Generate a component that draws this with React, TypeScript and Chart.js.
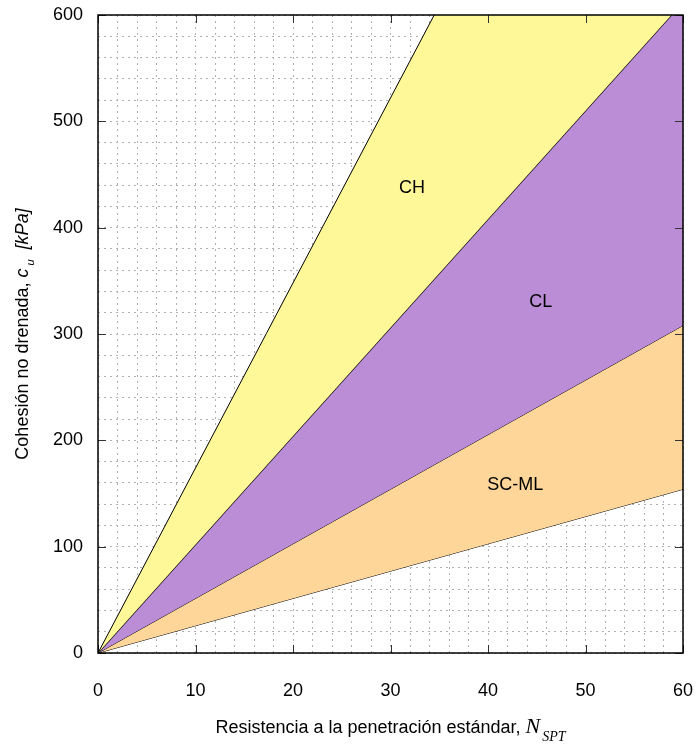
import React, { useEffect, useRef } from "react";
import { Chart, registerables } from "chart.js";

Chart.register(...registerables);

// Data
const nSpt = [0, 60];
const chUpper = [0, 1044]; // slope ~17.4 kPa per blow
const chClBoundary = [0, 612]; // slope ~10.2
const clScBoundary = [0, 308]; // slope ~5.13
const scLower = [0, 154]; // slope ~2.57

const zoneLabels = ["CH", "CL", "SC-ML"];
const zoneLabelN = [32.2, 45.4, 42.8];
const zoneLabelCu = [437, 330, 158];

const xTickValues = [0, 10, 20, 30, 40, 50, 60];
const yTickValues = [0, 100, 200, 300, 400, 500, 600];

const YELLOW = "rgb(255,248,153)";
const PURPLE = "rgb(187,141,215)";
const ORANGE = "rgb(255,214,153)";

const SANS = "Arial, 'Liberation Sans', Helvetica, sans-serif";
const SERIF = "'Times New Roman', 'Liberation Serif', serif";

const overlay = {
  id: "overlay",
  afterDatasetsDraw(chart: any) {
    const { ctx, chartArea: a, scales } = chart;
    const xs = scales.x;
    const ys = scales.y;
    ctx.save();
    // zone labels
    ctx.fillStyle = "#000";
    ctx.font = `18px ${SANS}`;
    ctx.textAlign = "center";
    ctx.textBaseline = "middle";
    zoneLabels.forEach((t, i) => {
      ctx.fillText(t, xs.getPixelForValue(zoneLabelN[i]), ys.getPixelForValue(zoneLabelCu[i]));
    });
    // inward tick marks
    ctx.strokeStyle = "#333";
    ctx.lineWidth = 1;
    const tl = 8;
    ctx.beginPath();
    xTickValues.forEach((v) => {
      const px = Math.round(xs.getPixelForValue(v)) + 0.5;
      ctx.moveTo(px, a.bottom);
      ctx.lineTo(px, a.bottom - tl);
      ctx.moveTo(px, a.top);
      ctx.lineTo(px, a.top + tl);
    });
    yTickValues.forEach((v) => {
      const py = Math.round(ys.getPixelForValue(v)) + 0.5;
      ctx.moveTo(a.left, py);
      ctx.lineTo(a.left + tl, py);
      ctx.moveTo(a.right, py);
      ctx.lineTo(a.right - tl, py);
    });
    ctx.stroke();
    // frame
    ctx.strokeStyle = "#000";
    ctx.lineWidth = 1.5;
    ctx.strokeRect(a.left, a.top, a.right - a.left, a.bottom - a.top);

    // x title
    ctx.textAlign = "left";
    ctx.textBaseline = "alphabetic";
    const p1 = "Resistencia a la penetración estándar, ";
    const f1 = `18px ${SANS}`;
    const f2 = `italic 22px ${SERIF}`;
    const f3 = `italic 14px ${SERIF}`;
    ctx.font = f1;
    const w1 = ctx.measureText(p1).width;
    ctx.font = f2;
    const w2 = ctx.measureText("N").width;
    ctx.font = f3;
    const w3 = ctx.measureText("SPT").width;
    const cx = (a.left + a.right) / 2;
    let x0 = cx - (w1 + w2 + w3 + 2) / 2;
    const by = 733;
    ctx.font = f1;
    ctx.fillText(p1, x0, by);
    x0 += w1;
    ctx.font = f2;
    ctx.fillText("N", x0, by);
    x0 += w2 + 2;
    ctx.font = f3;
    ctx.fillText("SPT", x0, by + 8);

    // y title (rotated)
    ctx.save();
    ctx.translate(28, (a.top + a.bottom) / 2);
    ctx.rotate(-Math.PI / 2);
    const q1 = "Cohesión no drenada, ";
    const g1 = `18px ${SANS}`;
    const g2 = `italic 18px ${SANS}`;
    const g3 = `italic 11px ${SANS}`;
    const q4 = "  [kPa]";
    ctx.font = g1;
    const v1 = ctx.measureText(q1).width;
    ctx.font = g2;
    const v2 = ctx.measureText("c").width;
    const v4 = ctx.measureText(q4).width;
    ctx.font = g3;
    const v3 = ctx.measureText("u").width;
    let y0 = -(v1 + v2 + v3 + v4 + 3) / 2;
    ctx.font = g1;
    ctx.fillText(q1, y0, 0);
    y0 += v1;
    ctx.font = g2;
    ctx.fillText("c", y0, 0);
    y0 += v2 + 3;
    ctx.font = g3;
    ctx.fillText("u", y0, 6);
    y0 += v3;
    ctx.font = g2;
    ctx.fillText(q4, y0, 0);
    ctx.restore();

    ctx.restore();
  },
};

export default function App() {
  const ref = useRef<HTMLCanvasElement>(null);
  useEffect(() => {
    if (!ref.current) return;
    const mk = (vals: number[]) => nSpt.map((n, i) => ({ x: n, y: vals[i] }));
    const chart = new Chart(ref.current, {
      type: "line",
      data: {
        datasets: [
          { data: mk(chUpper), borderColor: "#000", borderWidth: 1, pointRadius: 0, fill: "+1", backgroundColor: YELLOW },
          { data: mk(chClBoundary), borderColor: "#000", borderWidth: 1.3, pointRadius: 0, fill: "+1", backgroundColor: PURPLE },
          { data: mk(clScBoundary), borderColor: "#000", borderWidth: 1, pointRadius: 0, fill: "+1", backgroundColor: ORANGE },
          { data: mk(scLower), borderColor: "#000", borderWidth: 1, pointRadius: 0, fill: false },
        ],
      },
      options: {
        responsive: false,
        animation: false,
        layout: { padding: { top: 15, right: 13, left: 0, bottom: 0 } },
        plugins: { legend: { display: false }, tooltip: { enabled: false } },
        scales: {
          x: {
            type: "linear",
            min: 0,
            max: 60,
            afterFit: (s: any) => {
              s.height = 92;
              s.paddingLeft = 0;
              s.paddingRight = 0;
            },
            border: { display: false, dash: [2, 4] },
            grid: { color: "#b0b0b0", lineWidth: 1, drawTicks: false },
            ticks: {
              stepSize: 2,
              autoSkip: false,
              maxRotation: 0,
              padding: 27,
              color: "#000",
              font: { size: 18, family: SANS },
              callback: (v: any) => (Number(v) % 10 === 0 ? String(v) : ""),
            },
          },
          y: {
            type: "linear",
            min: 0,
            max: 600,
            afterFit: (s: any) => {
              s.width = 98;
              s.paddingTop = 0;
              s.paddingBottom = 0;
            },
            border: { display: false, dash: [2, 4] },
            grid: { color: "#b0b0b0", lineWidth: 1, drawTicks: false },
            ticks: {
              stepSize: 20,
              autoSkip: false,
              padding: 15,
              color: "#000",
              font: { size: 18, family: SANS },
              callback: (v: any) => (Number(v) % 100 === 0 ? String(v) : ""),
            },
          },
        },
      },
      plugins: [overlay],
    });
    return () => chart.destroy();
  }, []);
  return (
    <div style={{ position: "fixed", left: 0, top: 0, width: 696, height: 745, background: "#fff" }}>
      <canvas ref={ref} width={696} height={745} style={{ display: "block" }} />
    </div>
  );
}
